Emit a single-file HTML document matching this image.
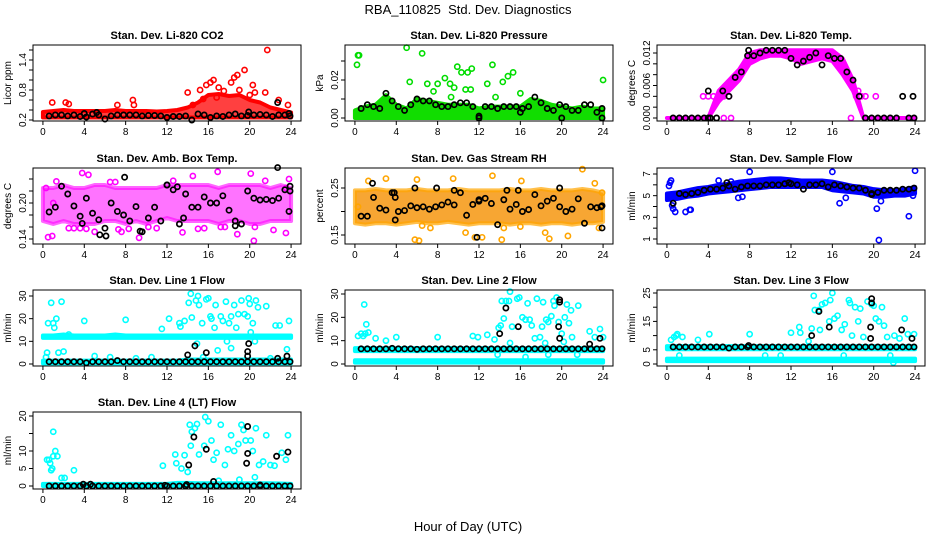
<!DOCTYPE html>
<html><head><meta charset="utf-8"><title>RBA_110825 Std. Dev. Diagnostics</title>
<style>
html,body{margin:0;padding:0;background:#fff;}
svg{display:block;font-family:"Liberation Sans",Arial,sans-serif;}
</style></head>
<body>
<svg id="chart" width="936" height="540" viewBox="0 0 936 540" xmlns="http://www.w3.org/2000/svg">
<rect width="936" height="540" fill="#fff"/>
<text x="468" y="14" text-anchor="middle" font-size="13" style="white-space:pre">RBA_110825&#160; Std. Dev. Diagnostics</text>
<text x="468" y="531" text-anchor="middle" font-size="13">Hour of Day (UTC)</text>
</svg>
<script>
// ---------- data ----------
const xTicks = [0,4,8,12,16,20,24];
const hours25 = [0,1,2,3,4,5,6,7,8,9,10,11,12,13,14,15,16,17,18,19,20,21,22,23,24];
const blackHours = [0.6,1.2,1.8,2.4,3.0,3.6,4.2,4.8,5.4,6.0,6.6,7.2,7.8,8.4,9.0,9.6,10.2,10.8,11.4,12.0,12.6,13.2,13.8,14.4,15.0,15.6,16.2,16.8,17.4,18.0,18.6,19.2,19.8,20.4,21.0,21.6,22.2,22.8,23.4,23.9];

// CO2
const co2BandLow  = [0.25,0.25,0.25,0.25,0.25,0.25,0.25,0.25,0.25,0.25,0.25,0.25,0.25,0.25,0.25,0.25,0.25,0.25,0.25,0.25,0.25,0.25,0.25,0.25,0.25];
const co2BandHigh = [0.36,0.38,0.4,0.38,0.38,0.38,0.38,0.4,0.38,0.38,0.38,0.37,0.38,0.4,0.45,0.55,0.7,0.72,0.68,0.7,0.6,0.55,0.45,0.4,0.35];
const co2Out = [[0.9,0.55],[2.2,0.55],[2.5,0.52],[7.2,0.5],[8.7,0.6],[8.8,0.5],[14,0.75],[14.5,0.5],[15.2,0.8],[15.8,0.9],[16.2,0.95],[16.5,1.0],[17,0.85],[18.2,0.95],[18.5,1.05],[18.8,1.1],[19.5,1.2],[20.3,0.9],[20.5,0.75],[21.5,0.75],[21.7,1.6],[22.8,0.6],[23.7,0.5],[16.8,0.65],[19,0.8],[20,0.7],[15.5,0.62],[17.5,0.78]];
const co2Black = [0.28,0.3,0.3,0.28,0.3,0.27,0.26,0.32,0.3,0.22,0.28,0.3,0.3,0.3,0.3,0.28,0.29,0.29,0.28,0.25,0.27,0.27,0.28,0.2,0.32,0.3,0.25,0.28,0.27,0.3,0.32,0.28,0.29,0.3,0.31,0.3,0.27,0.3,0.3,0.28];
const co2BlackExtra = [[22.7,0.55],[4,0.33],[5.2,0.35],[23.8,0.33],[19.9,0.36]];

// Pressure
const presBandLow  = [0,0,0,0,0,0,0,0,0,0,0,0,0,0,0,0,0,0,0,0,0,0,0,0,0];
const presBandHigh = [0.004,0.006,0.007,0.012,0.007,0.005,0.01,0.009,0.008,0.007,0.007,0.007,0.005,0.006,0.006,0.006,0.006,0.01,0.009,0.007,0.006,0.005,0.006,0.005,0.005];
const presOut = [[0.2,0.028],[0.3,0.033],[0.4,0.033],[5,0.037],[5.3,0.019],[6.5,0.034],[7,0.018],[7.6,0.014],[8,0.018],[8.7,0.021],[9.2,0.018],[9.6,0.016],[9.9,0.027],[10.3,0.024],[10.7,0.015],[10.9,0.024],[11.2,0.015],[11.3,0.026],[12.8,0.018],[13.3,0.028],[13.6,0.011],[14.3,0.019],[14.8,0.022],[15.3,0.024],[16,0.013],[24,0.02],[9.3,0.011]];
const presBlack = [0.005,0.007,0.006,0.005,0.013,0.009,0.006,0.004,0.007,0.01,0.009,0.009,0.007,0.006,0.006,0.007,0.008,0.008,0.006,0.001,0.006,0.006,0.005,0.006,0.006,0.006,0.005,0.006,0.011,0.008,0.005,0.004,0.007,0.006,0.004,0.004,0.007,0.007,0.003,0.005];
const presBlackExtra = [[12,0],[20,0],[23.9,0],[16,0.003]];

// Li-820 temp
const tempBandLow  = [0,0,0,0,0,0.003,0.005,0.007,0.01,0.011,0.0115,0.0115,0.011,0.01,0.0105,0.011,0.0105,0.008,0.005,0,0,0,0,0,0];
const tempBandHigh = [0,0,0,0,0,0.005,0.007,0.009,0.012,0.0125,0.0125,0.0125,0.0125,0.0125,0.0125,0.0125,0.0125,0.011,0.007,0,0,0,0,0,0];
const tempOut = [[3.5,0.004],[4,0.004],[4.5,0.004],[5,0.004],[5.5,0.004],[6,0.004],[18.3,0.004],[18.5,0.005],[18.8,0.004],[19.2,0.004],[20.2,0.004],[6.2,0],[5.5,0],[17.8,0]];
const tempBlack = [0,0,0,0,0,0,0,0,0.005,0.004,0.0075,0.0085,0.0115,0.0115,0.012,0.0125,0.0125,0.0125,0.0125,0.011,0.0098,0.0105,0.0112,0.012,0.0098,0.0115,0.011,0.011,0.0085,0.007,0.004,0,0,0,0,0,0,0.004,0,0];
const tempBlackExtra = [[4,0.005],[23.8,0.004],[4,0],[7.9,0.0125]];

// Amb box temp
const ambBandLow  = [0.17,0.165,0.17,0.165,0.165,0.165,0.17,0.17,0.165,0.17,0.165,0.17,0.175,0.17,0.17,0.17,0.17,0.165,0.17,0.17,0.165,0.165,0.17,0.17,0.17];
const ambBandHigh = [0.225,0.225,0.23,0.225,0.225,0.23,0.23,0.225,0.225,0.225,0.225,0.225,0.23,0.23,0.23,0.23,0.23,0.225,0.23,0.23,0.23,0.23,0.225,0.23,0.225];
const ambOut = [[0.3,0.225],[0.5,0.143],[0.9,0.145],[1.3,0.236],[2.5,0.158],[3,0.158],[3.6,0.158],[4.2,0.157],[4.4,0.247],[3.8,0.25],[5,0.152],[6.5,0.235],[7,0.235],[7.3,0.156],[7.6,0.152],[8.3,0.157],[9.3,0.142],[10.2,0.16],[11,0.158],[12.6,0.237],[13.5,0.151],[14.5,0.245],[15,0.157],[15.6,0.158],[16.9,0.252],[17.6,0.16],[18.8,0.148],[20.1,0.249],[20.4,0.137],[20.5,0.16],[21.5,0.237],[22.3,0.155],[23.5,0.15],[23.5,0.225],[23.8,0.24],[1,0.2],[17.2,0.16]];
const ambBlack = [0.185,0.193,0.228,0.215,0.195,0.178,0.208,0.183,0.172,0.158,0.2,0.186,0.18,0.17,0.194,0.152,0.175,0.193,0.17,0.23,0.222,0.165,0.215,0.193,0.193,0.21,0.2,0.2,0.212,0.188,0.162,0.165,0.22,0.208,0.205,0.206,0.204,0.208,0.222,0.22];
const ambBlackExtra = [[3.8,0.166],[7.9,0.243],[12,0.23],[13,0.227],[22.7,0.259],[23.9,0.228],[23.8,0.186],[9.4,0.153],[13.6,0.175],[5.5,0.147],[6.1,0.145],[18.6,0.17]];

// Gas stream RH
const rhBandLow  = [0.175,0.172,0.175,0.175,0.172,0.175,0.178,0.175,0.175,0.178,0.175,0.172,0.175,0.175,0.175,0.172,0.175,0.175,0.172,0.175,0.175,0.172,0.175,0.175,0.178];
const rhBandHigh = [0.245,0.245,0.248,0.245,0.245,0.245,0.248,0.245,0.245,0.245,0.248,0.245,0.245,0.245,0.245,0.248,0.245,0.245,0.248,0.245,0.245,0.245,0.248,0.245,0.24];
const rhOut = [[0.3,0.21],[1.3,0.265],[3,0.27],[5.8,0.14],[6.2,0.138],[6,0.268],[6.5,0.17],[9.5,0.27],[11.6,0.145],[12.3,0.145],[13.3,0.276],[14.2,0.14],[14.4,0.165],[16,0.168],[16.1,0.265],[18.4,0.155],[18.8,0.142],[20.6,0.148],[22,0.29],[23.2,0.26],[23.6,0.165],[23.9,0.24],[10.7,0.155],[7.3,0.165]];
const rhBlack = [0.19,0.19,0.23,0.207,0.203,0.24,0.2,0.202,0.212,0.208,0.21,0.205,0.21,0.214,0.22,0.214,0.24,0.192,0.215,0.225,0.228,0.217,0.172,0.225,0.205,0.215,0.2,0.204,0.236,0.212,0.222,0.228,0.21,0.2,0.205,0.227,0.175,0.21,0.208,0.165];
const rhBlackExtra = [[1.7,0.26],[3.9,0.23],[3.8,0.24],[3.9,0.182],[5.8,0.25],[7.9,0.25],[9.6,0.245],[11.8,0.145],[12,0.222],[14.7,0.245],[15.8,0.245],[19.8,0.25],[23.8,0.21],[23.9,0.212]];

// Sample flow
const flowBandLow  = [4.6,4.7,4.9,5.0,5.2,5.3,5.4,5.5,5.6,5.7,5.8,5.8,5.8,5.8,5.8,5.8,5.5,5.4,5.3,5.2,4.9,4.9,5.0,5.0,5.2];
const flowBandHigh = [5.2,5.3,5.5,5.7,5.8,6.0,6.1,6.3,6.4,6.5,6.6,6.6,6.5,6.4,6.4,6.4,6.3,6.1,5.9,5.8,5.6,5.5,5.5,5.6,5.8];
const flowOut = [[0.2,5.9],[0.3,6.2],[0.4,6.4],[0.5,4.1],[0.6,3.8],[0.8,3.5],[1.8,3.5],[2.2,3.7],[2.3,3.7],[5,6.4],[6.2,6.3],[8,7.2],[6.9,4.8],[7.3,4.9],[16,7.2],[16.7,4.3],[17.3,4.8],[20.3,3.8],[20.5,0.9],[20.7,4.5],[23.4,3.1],[24,7.3],[23.8,5]];
const flowBlack = [4.3,5.2,5.1,5.2,5.3,5.5,5.6,5.6,5.7,5.9,5.6,5.8,5.9,5.9,5.9,6.0,6.0,6.0,6.1,6.1,6.0,5.6,6.0,6.0,6.1,5.8,6.0,5.9,5.8,5.7,5.7,5.5,5.2,5.3,5.5,5.5,5.5,5.6,5.6,5.7];
const flowBlackExtra = [[5.8,6.2],[11.8,6.2],[19.8,5.1]];

// Line 1
const l1BandALow  = [11.5,11.5,11.5,11.5,11.5,11.5,11.5,11.5,11.5,11.5,11.5,11.5,11.5,11.5,11.5,11.5,11.5,11.5,11.5,11.5,11.5,11.5,11.5,11.5,11.5];
const l1BandAHigh = [12.6,12.6,13,12.6,12.6,12.6,12.6,13,12.6,12.6,12.6,12.6,12.6,12.6,12.6,12.6,12.6,12.6,12.6,12.6,12.6,12.6,12.6,12.6,12.6];
const l1BandBLow  = [0.3,0.3,0.3,0.3,0.3,0.3,0.3,0.3,0.3,0.3,0.3,0.3,0.3,0.3,0.3,0.3,0.3,0.3,0.3,0.3,0.3,0.3,0.3,0.3,0.3];
const l1BandBHigh = [1.5,1.5,1.5,1.5,1.5,1.5,1.5,1.5,1.5,1.5,1.5,1.5,1.5,1.5,2,2,2,2,2,2,2,2,2,2,2];
const l1Out = [[0.8,27],[1,18],[1.1,16],[1.3,20],[1.8,27.5],[0.5,18],[0.4,5],[0.3,3],[1.5,5],[2,5.5],[2.5,13],[4,19],[8,19.5],[11.5,15.5],[12.2,20],[13.2,18],[13.3,16.5],[13.7,19],[14.1,27],[14.3,31],[14.4,20.5],[14.8,28],[15,30],[15.1,26],[15.4,18],[15.8,28.5],[16,29],[16.2,21],[16.3,20],[16.6,16],[16.7,26],[16.9,6],[17.2,21],[17.4,19],[17.7,27.5],[18,18],[18.2,21],[18.5,26],[18.7,16],[18.9,22],[19.2,28],[19.5,22],[19.8,21],[19.9,29],[20,26.5],[20.3,18],[20.6,28],[20.8,25],[21.6,25.5],[22.5,17],[22.9,17],[23.8,19],[23.6,6.5],[14.9,9],[15.5,3],[17.8,10],[18.2,7],[20.1,14],[20.5,10],[22,2.5],[5,3.5],[6.5,3],[9,2.5],[10.5,3]];
const l1Black = [1,1,1,1,1,1,0.5,1,1,1,1,1.5,1,1,1,1,1,1,1,1,1,1,1,1,1,1,1,1,1,1,1,1,1,1,1,1,1,1,1,1];
const l1BlackExtra = [[14,4],[14.7,8],[15.8,5],[19.8,5.5],[19.8,3.5],[19.9,9],[22.7,2.5],[23.6,3.5]];

// Line 2
const l2BandALow  = [5.5,5.5,5.5,5.5,5.5,5.5,5.5,5.5,5.5,5.5,5.5,5.5,5.5,5.5,5.5,5.5,5.5,5.5,5.5,5.5,5.5,5.5,5.5,5.5,5.5];
const l2BandAHigh = [6.8,6.8,6.8,6.8,6.8,6.8,6.8,6.8,6.8,6.8,6.8,6.8,6.8,6.8,6.8,6.8,6.8,6.8,6.8,6.8,6.8,6.8,6.8,6.8,6.8];
const l2BandBLow  = [0.6,0.6,0.6,0.6,0.6,0.6,0.6,0.6,0.6,0.6,0.6,0.6,0.6,0.6,0.6,0.6,0.6,0.6,0.6,0.6,0.6,0.6,0.6,0.6,0.6];
const l2BandBHigh = [1.6,1.6,1.6,1.6,1.6,1.6,1.6,1.6,1.6,1.6,1.6,1.6,1.6,1.6,1.6,1.6,1.6,1.6,1.6,1.6,1.6,1.6,1.6,1.6,1.6];
const l2Out = [[0.3,12],[0.6,13],[0.8,12],[0.9,25.5],[1,13],[1.1,17],[1.3,13.5],[2,11],[3,10],[4,11.5],[8,11.5],[11.4,12],[11.9,11.5],[12.8,12.5],[13.5,10.5],[13.9,15.5],[14.1,16.5],[14.2,27],[14.4,19.5],[14.6,27],[14.9,27],[15,31],[15.2,16],[15.7,28],[15.9,28.5],[16.2,20],[16.5,19],[16.7,26],[16.9,19],[17.1,16.5],[17.4,11],[17.6,28],[17.9,11.5],[18.1,16],[18.2,26.5],[18.5,19],[18.7,18],[19,20.5],[19.2,27],[19.3,25],[19.5,28.5],[19.7,18],[20,13],[20.3,20],[20.5,25.5],[20.7,17.5],[20.9,23],[21.6,25],[22.7,14],[23.2,11.5],[23.7,15],[24,11.5],[20.2,9.5],[18.4,9],[15,9],[21,11.5],[13.8,4],[16.5,3],[18.7,4],[21.5,4]];
const l2Black = [6.5,6.5,6.5,6.5,6.5,6.7,6.5,6.5,6.5,6.3,6.5,6.5,6.5,6.5,6.5,6.5,6.5,6.5,6.5,6.5,6.5,6.5,6.5,6.5,6.5,6.5,6.5,6.5,6.5,6.5,6.5,6.5,6.5,6.5,6.5,6.5,6.5,6.5,6.5,6.5];
const l2BlackExtra = [[14,13],[14.6,24],[15.8,16],[19.8,27.5],[19.8,26.5],[19.7,16],[19.8,11],[22.7,8.5],[23.7,11]];

// Line 3
const l3BandALow  = [5.2,5.2,5.2,5.2,5.2,5.2,5.2,5.2,5.2,5.2,5.2,5.2,5.2,5.2,5.2,5.2,5.2,5.2,5.2,5.2,5.2,5.2,5.2,5.2,5.2];
const l3BandAHigh = [6.3,6.3,6.3,6.3,6.3,6.3,6.3,6.3,6.3,6.3,6.3,6.3,6.3,6.3,6.3,6.3,6.3,6.3,6.3,6.3,6.3,6.3,6.3,6.3,6.3];
const l3BandBLow  = [1,1,1,1,1,1,1,1,1,1,1,1,1,1,1,1,1,1,1,1,1,1,1,1,1];
const l3BandBHigh = [1.9,1.9,1.9,1.9,1.9,1.9,1.9,1.9,1.9,1.9,1.9,1.9,1.9,1.9,1.9,1.9,1.9,1.9,1.9,1.9,1.9,1.9,1.9,1.9,1.9];
const l3Out = [[0.4,8.5],[0.7,9.5],[0.9,10],[1,10.5],[1.5,9.5],[3,8.5],[4.1,10.5],[8,10.5],[12,11],[12.8,13],[12.9,11],[13.7,8],[14,12.5],[14.2,24],[14.3,19],[14.7,19],[14.8,12],[15,21],[15.3,21.5],[15.7,15],[15.8,22.5],[16,25],[16.2,16],[16.5,17],[16.9,12],[17.2,14],[17.6,22.5],[17.7,21.5],[17.9,10],[18.2,20],[18.5,15],[18.7,19.5],[19,9.5],[19.4,22],[19.8,21],[20,20.5],[20.2,16],[20.5,15],[20.8,20],[21,13.5],[21.3,9.5],[22,10],[23,16],[23.3,10.5],[23.9,10.5],[22.5,9],[17.1,3],[21.6,3],[21.9,0.5],[1.2,3],[9.5,3],[11,3]];
const l3Black = [6,6,6,6,6,6,6,6,6,5.6,6,6,6,6,6,6,6,6,6,6,6,6,6,6,6,6,6,6,6,6,6,6,6,6,6,6,6,6,6,6];
const l3BlackExtra = [[14,10],[14.7,18.5],[15.7,13],[19.8,23],[19.8,21.5],[19.7,13],[19.7,9],[22.7,12],[23.7,9],[7.9,6.5]];

// Line 4
const l4BandLow  = [0,0,0,0,0,0,0,0,0,0,0,0,0,0,0,0,0,0,0,0,0,0,0,0,0];
const l4BandHigh = [0.6,0.6,0.6,0.6,0.6,0.6,0.6,0.6,0.6,0.6,0.6,0.6,0.6,0.9,0.9,0.8,0.8,0.8,0.8,0.8,0.8,0.8,0.8,0.7,0.6];
const l4Out = [[0.4,7.5],[0.6,7.5],[0.7,6.5],[0.8,4.5],[0.9,5],[1,8.5],[1,15.5],[1.2,10],[1.4,8.5],[1.8,2.3],[2.1,2.3],[3,4.5],[11.6,5.8],[12.8,9],[12.9,6.5],[13.4,5],[13.7,8.8],[14,4],[14.2,17.5],[14.3,11.5],[14.4,15.5],[14.7,16.5],[14.9,17.7],[15.1,9],[15.6,11.5],[15.7,19.7],[16,18.5],[16.3,13],[16.5,7.5],[16.8,9.5],[17.2,17.5],[17.6,6],[17.9,10.5],[18.2,14.5],[18.5,10],[18.9,12],[19.2,17.5],[19.4,16],[19.6,13],[20.1,13],[20.3,10],[20.6,16.5],[20.9,6],[21.3,7],[21.6,14.5],[22.4,5.8],[23.1,9.5],[23.5,7.5],[23.7,14.5],[22,6],[17,1.5],[19,1.8],[20.5,2.5]];
const l4Black = [0,0,0,0,0,0,0,0,0,0,0,0,0,0,0,0,0,0,0,0,0,0,0,0,0,0,0,0,0,0,0,0,0,0,0,0,0,0,0,0];
const l4BlackExtra = [[3.9,0.5],[4.6,0.5],[21,0.3],[11.8,0.2],[13.9,0.4],[14.1,6],[14.6,14],[15.8,10.5],[16.5,1.3],[19.8,17],[19.8,9.3],[19.7,6.5],[22.6,8.5],[23.7,9.7]];

// ---------- drawing ----------
const NS = 'http://www.w3.org/2000/svg';
const svg = document.getElementById('chart');
function mk(tag, attrs, parent){ const e=document.createElementNS(NS,tag); for(const k in attrs) e.setAttribute(k,attrs[k]); (parent||svg).appendChild(e); return e; }

const colLeft = [33,345,657];
const rowBox = [[45,121],[168,244],[290,366],[412,489]];
const BW = 268;

function panel(p){
  const L = colLeft[p.col], T = rowBox[p.row][0], B = rowBox[p.row][1];
  const g = mk('g',{});
  
  
  const xs = h => L + (h + 0.96) / 25.92 * BW;
  const ys = v => p.pA + (v - p.vA) * (p.pB - p.pA) / (p.vB - p.vA);
  const t = mk('text',{x:L+BW/2,y:T-6,'text-anchor':'middle','font-size':11,'font-weight':'bold'},g);
  t.textContent = p.title;
  
  
  (p.bands||[]).forEach(b=>{
    let pts = hours25.map((h,i)=>xs(h)+','+ys(b.hi[i]));
    pts = pts.concat(hours25.slice().reverse().map((h,k)=>{const i=24-k; return xs(h)+','+ys(b.lo[i]);}));
    const pg = mk('polygon',{points:pts.join(' '),fill:b.fill||b.color,stroke:b.color,'stroke-width':4,'stroke-linejoin':'round','fill-opacity':b.op||1,'stroke-opacity':b.sop||1},g);
    
    
  });
  (p.out||[]).forEach(d=>{
    const c = mk('circle',{cx:xs(d[0]),cy:ys(d[1]),r:2.6,fill:'none',stroke:p.color,'stroke-width':1.6},g);
    
    
  });
  blackHours.forEach((h,i)=>{
    const c = mk('circle',{cx:xs(h),cy:ys(p.black[i]),r:2.6,fill:'none',stroke:'#000','stroke-width':1.7},g);
    
    
  });
  (p.blackExtra||[]).forEach(d=>{
    const c = mk('circle',{cx:xs(d[0]),cy:ys(d[1]),r:2.6,fill:'none',stroke:'#000','stroke-width':1.7},g);
    
    
  });
  const box = mk('rect',{x:L,y:T,width:BW,height:B-T,fill:'none',stroke:'#000','stroke-width':1},g);
  
  
  xTicks.forEach(v=>{
    mk('line',{x1:xs(v),x2:xs(v),y1:B,y2:B+4,stroke:'#000'},g);
    const tx = mk('text',{x:xs(v),y:B+14,'text-anchor':'middle','font-size':10},g);
    tx.textContent = v;
    
    
  });
  p.ticks.forEach(v=>{ mk('line',{x1:L-4,x2:L,y1:ys(v),y2:ys(v),stroke:'#000'},g); });
  p.labels.forEach(s=>{
    const y = ys(parseFloat(s));
    const tx = mk('text',{x:0,y:0,'text-anchor':'middle','font-size':10,transform:`translate(${L-7},${y}) rotate(-90)`},g);
    tx.textContent = s;
    
    
  });
  const yt = mk('text',{x:0,y:0,'text-anchor':'middle','font-size':10,transform:`translate(${L-22},${(T+B)/2}) rotate(-90)`},g);
  yt.textContent = p.ylab;
  
  
}

const CY='#00ffff';
panel({name:'panel-co2',col:0,row:0,title:'Stan. Dev. Li-820 CO2',ylab:'Licor ppm',vA:0.2,pA:120,vB:1.4,pB:60,
  ticks:[0.2,0.4,0.6,0.8,1.0,1.2,1.4,1.6],labels:['0.2','0.8','1.4'],color:'#ff0000',
  bands:[{lo:co2BandLow,hi:co2BandHigh,color:'#ff0000',op:0.75}],out:co2Out,black:co2Black,blackExtra:co2BlackExtra});
panel({name:'panel-pressure',col:1,row:0,title:'Stan. Dev. Li-820 Pressure',ylab:'kPa',vA:0,pA:118,vB:0.02,pB:80,
  ticks:[0,0.01,0.02,0.03],labels:['0.00','0.02'],color:'#00dd00',
  bands:[{lo:presBandLow,hi:presBandHigh,color:'#11dd00'}],out:presOut,black:presBlack,blackExtra:presBlackExtra});
panel({name:'panel-li820-temp',col:2,row:0,title:'Stan. Dev. Li-820 Temp.',ylab:'degrees C',vA:0,pA:118,vB:0.012,pB:53,
  ticks:[0,0.002,0.004,0.006,0.008,0.010,0.012],labels:['0.000','0.006','0.012'],color:'#ff00ff',
  bands:[{lo:tempBandLow,hi:tempBandHigh,color:'#ff00ff'}],out:tempOut,black:tempBlack,blackExtra:tempBlackExtra});
panel({name:'panel-amb-box-temp',col:0,row:1,title:'Stan. Dev. Amb. Box Temp.',ylab:'degrees C',vA:0.14,pA:239,vB:0.20,pB:203,
  ticks:[0.14,0.16,0.18,0.20,0.22,0.24],labels:['0.14','0.20'],color:'#ff00ff',
  bands:[{lo:ambBandLow,hi:ambBandHigh,color:'#ff00ff',op:0.55,sop:0.6}],out:ambOut,black:ambBlack,blackExtra:ambBlackExtra});
panel({name:'panel-gas-stream-rh',col:1,row:1,title:'Stan. Dev. Gas Stream RH',ylab:'percent',vA:0.15,pA:235,vB:0.25,pB:188,
  ticks:[0.15,0.20,0.25],labels:['0.15','0.25'],color:'#ffa500',
  bands:[{lo:rhBandLow,hi:rhBandHigh,color:'#ffa500',fill:'#f59000',op:0.8,sop:0.7}],out:rhOut,black:rhBlack,blackExtra:rhBlackExtra});
panel({name:'panel-sample-flow',col:2,row:1,title:'Stan. Dev. Sample Flow',ylab:'ml/min',vA:1,pA:239,vB:7,pB:174,
  ticks:[1,2,3,4,5,6,7],labels:['1','3','5','7'],color:'#0000ff',
  bands:[{lo:flowBandLow,hi:flowBandHigh,color:'#0000ff'}],out:flowOut,black:flowBlack,blackExtra:flowBlackExtra});
panel({name:'panel-line1-flow',col:0,row:2,title:'Stan. Dev. Line 1 Flow',ylab:'ml/min',vA:0,pA:364,vB:30,pB:296,
  ticks:[0,10,20,30],labels:['0','10','20','30'],color:CY,
  bands:[{lo:l1BandALow,hi:l1BandAHigh,color:CY},{lo:l1BandBLow,hi:l1BandBHigh,color:CY}],out:l1Out,black:l1Black,blackExtra:l1BlackExtra});
panel({name:'panel-line2-flow',col:1,row:2,title:'Stan. Dev. Line 2 Flow',ylab:'ml/min',vA:0,pA:364,vB:30,pB:294,
  ticks:[0,10,20,30],labels:['0','10','20','30'],color:CY,
  bands:[{lo:l2BandALow,hi:l2BandAHigh,color:CY},{lo:l2BandBLow,hi:l2BandBHigh,color:CY}],out:l2Out,black:l2Black,blackExtra:l2BlackExtra});
panel({name:'panel-line3-flow',col:2,row:2,title:'Stan. Dev. Line 3 Flow',ylab:'ml/min',vA:0,pA:364,vB:25,pB:293,
  ticks:[0,5,10,15,20,25],labels:['0','5','15','25'],color:CY,
  bands:[{lo:l3BandALow,hi:l3BandAHigh,color:CY},{lo:l3BandBLow,hi:l3BandBHigh,color:CY}],out:l3Out,black:l3Black,blackExtra:l3BlackExtra});
panel({name:'panel-line4-flow',col:0,row:3,title:'Stan. Dev. Line 4 (LT) Flow',ylab:'ml/min',vA:0,pA:486,vB:20,pB:416,
  ticks:[0,5,10,15,20],labels:['0','5','10','20'],color:CY,
  bands:[{lo:l4BandLow,hi:l4BandHigh,color:CY}],out:l4Out,black:l4Black,blackExtra:l4BlackExtra});
</script>
</body></html>
